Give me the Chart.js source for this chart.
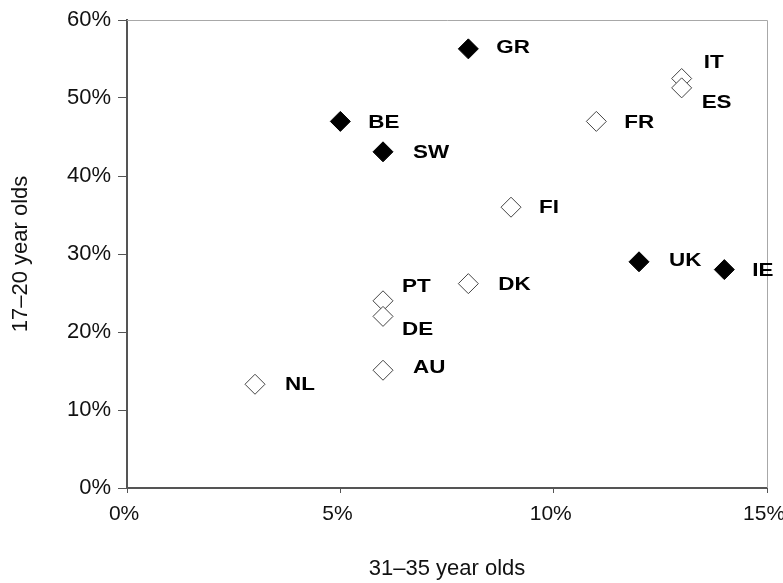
<!DOCTYPE html>
<html>
<head>
<meta charset="utf-8">
<script src="https://cdn.jsdelivr.net/npm/chart.js@4"></script>
<style>
  html, body { margin: 0; padding: 0; background: #fff; }
  #wrap { width: 783px; height: 583px; position: relative; }
</style>
</head>
<body>
<div id="wrap"><canvas id="c" width="783" height="583"></canvas></div>
<script>
// Share of each age group (percent)
const filledCountries = ['GR', 'BE', 'SW', 'UK', 'IE'];
const filledX = [8, 5, 6, 12, 14];          // 31–35 year olds
const filledY = [56.3, 47, 43.1, 29, 28];   // 17–20 year olds

const openCountries = ['IT', 'ES', 'FR', 'FI', 'DK', 'PT', 'DE', 'AU', 'NL'];
const openX = [13, 13, 11, 9, 8, 6, 6, 6, 3];
const openY = [52.5, 51.3, 47, 36, 26.2, 24, 22, 15.1, 13.3];

const xTicks = [0, 5, 10, 15];
const yTicks = [0, 10, 20, 30, 40, 50, 60];

// Label placement relative to each marker (pixels)
const labelShift = {
  GR: [28, -2], IT: [22, -17], ES: [20, 14], PT: [19, -15], DE: [19, 12],
  AU: [30, -3], UK: [30, -2], SW: [30, 0], DK: [30, 0], NL: [30, 0]
};

const FONT = '"Liberation Sans", Arial, sans-serif';

function toPoints(xs, ys) {
  return xs.map((x, i) => ({ x: x, y: ys[i] }));
}

const countryLabels = {
  id: 'countryLabels',
  afterDatasetsDraw(chart) {
    const ctx = chart.ctx;
    const sets = [filledCountries, openCountries];
    ctx.save();
    ctx.fillStyle = '#000';
    ctx.font = 'bold 19px ' + FONT;
    ctx.textBaseline = 'middle';
    ctx.textAlign = 'left';
    sets.forEach((names, di) => {
      const meta = chart.getDatasetMeta(di);
      meta.data.forEach((el, i) => {
        const name = names[i];
        const s = labelShift[name] || [28, 0];
        ctx.save();
        ctx.translate(el.x + s[0], el.y + s[1]);
        ctx.scale(1.18, 1);
        ctx.fillText(name, 0, 1);
        ctx.restore();
      });
    });
    ctx.restore();
  }
};

const frameLines = {
  id: 'frameLines',
  beforeDatasetsDraw(chart) {
    const { ctx, chartArea: a } = chart;
    ctx.save();
    ctx.strokeStyle = '#a8a8a8';
    ctx.lineWidth = 1;
    ctx.beginPath();
    ctx.moveTo(a.left, a.top + 0.5);
    ctx.lineTo(a.right + 0.5, a.top + 0.5);
    ctx.lineTo(a.right + 0.5, a.bottom);
    ctx.stroke();
    ctx.restore();
  }
};

new Chart(document.getElementById('c'), {
  type: 'scatter',
  data: {
    datasets: [
      {
        label: 'filled',
        data: toPoints(filledX, filledY),
        pointStyle: 'rectRot',
        pointRadius: 10,
        backgroundColor: '#000',
        borderColor: '#000',
        borderWidth: 1
      },
      {
        label: 'open',
        data: toPoints(openX, openY),
        pointStyle: 'rectRot',
        pointRadius: 10,
        backgroundColor: '#fff',
        borderColor: '#444',
        borderWidth: 1
      }
    ]
  },
  options: {
    responsive: false,
    animation: false,
    events: [],
    layout: { padding: { top: 20, right: 16, left: 0, bottom: 0 } },
    plugins: { legend: { display: false }, tooltip: { enabled: false } },
    scales: {
      x: {
        type: 'linear',
        min: 0, max: 15,
        afterBuildTicks(s) { s.ticks = xTicks.map(v => ({ value: v })); },
        afterFit(s) { s.height = 95; s.paddingLeft = 0; s.paddingRight = 0; },
        grid: {
          display: true, drawOnChartArea: false, drawTicks: true,
          tickLength: 5, tickColor: '#555', tickWidth: 1
        },
        border: { display: true, color: '#555', width: 2 },
        ticks: {
          color: '#111', padding: 9,
          font: { family: FONT, size: 21 },
          callback: v => v + '% '
        },
        title: {
          display: true, text: '31–35 year olds', color: '#111',
          font: { family: FONT, size: 22 },
          padding: { top: 0, bottom: 1 }
        }
      },
      y: {
        type: 'linear',
        min: 0, max: 60,
        afterBuildTicks(s) { s.ticks = yTicks.map(v => ({ value: v })); },
        afterFit(s) { s.width = 127; s.paddingTop = 0; s.paddingBottom = 0; },
        grid: {
          display: true, drawOnChartArea: false, drawTicks: true,
          tickLength: 9, tickColor: '#555', tickWidth: 1
        },
        border: { display: true, color: '#555', width: 2 },
        ticks: {
          color: '#111', padding: 7,
          font: { family: FONT, size: 22 },
          callback: v => v + '%'
        },
        title: {
          display: true, text: '17–20 year olds', color: '#111',
          font: { family: FONT, size: 22 },
          padding: { top: 8, bottom: 0 }
        }
      }
    }
  },
  plugins: [frameLines, countryLabels]
});
</script>
</body>
</html>
